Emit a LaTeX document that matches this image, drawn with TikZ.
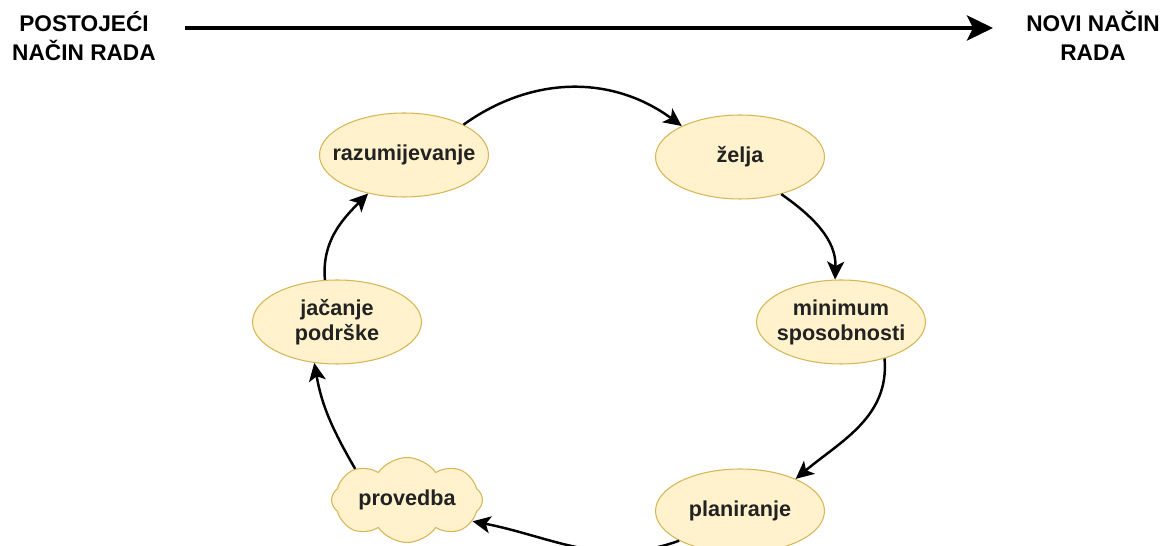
\documentclass[tikz,border=0pt]{standalone}
\usepackage{fontspec}
\setmainfont{Liberation Sans}
\usepackage{tikz}
\usetikzlibrary{positioning, arrows.meta, shapes.geometric, shapes.symbols}
\definecolor{phasefill}{HTML}{FFF2CC}
\definecolor{phasedraw}{HTML}{D6B656}
\definecolor{phasetext}{HTML}{222222}
\tikzset{phase/.style = {ellipse,draw=phasedraw,fill=phasefill,line width=0.6pt,
    inner xsep=-0.26cm,inner ysep=0pt,
    minimum width=3.38cm,minimum height=1.68cm,align=center,text=phasetext,
    font=\fontsize{12.3}{14.2}\selectfont\bfseries}}
\tikzset{cloudphase/.style = {phase,cloud,cloud puffs=8,cloud puff arc=110,cloud ignores aspect,
    inner xsep=0pt,minimum width=3.02cm,minimum height=1.7cm}}
\tikzset{link/.style = {line width=1.4pt,-{Stealth[length=0.36cm,width=0.34cm,inset=0.09cm]}}}
\tikzset{heading/.style = {align=center,font=\fontsize{12.9}{16.4}\selectfont\bfseries}}

\begin{document}
\begin{tikzpicture}[x=0.02cm,y=0.02cm]
    \useasboundingbox (0,0) rectangle (1169,-546);
    \node[heading] (old) at (84,-36) {POSTOJEĆI\\NAČIN RADA};
    \node[heading] (new) at (1093,-36) {NOVI NAČIN\\RADA};
    \coordinate (from) at (185,-28);
    \coordinate (to) at (993,-28);
    \draw[line width=2.3pt,-{Stealth[length=0.52cm,width=0.5cm,inset=0.12cm]}] (from) -- (to);

    \node[phase] (raz) at (404,-155) {razumijevanje};
    \node[phase] (zel) at (740,-157) {želja};
    \node[phase] (mini) at (841,-322) {minimum\\sposobnosti};
    \node[phase] (plan) at (740,-511) {planiranje};
    \node[cloudphase] (prov) at (407,-500) {provedba};
    \node[phase] (jac) at (337,-322) {jačanje\\podrške};

    \draw[link] (raz.27) to [bend left=36] (zel.152);
    \draw[link] (zel.-42) to [out=-35,in=88] (mini.98);
    \draw[link] (mini.-40) to [out=-85,in=40] (plan.30);
    \draw[link] (plan.206) to [out=-160,in=-11] (prov.-18);
    \draw[link] (prov.149) to [out=120,in=-80] (jac.241);
    \draw[link] (jac.106) to [out=95,in=-135] (raz.227);
\end{tikzpicture}
\end{document}
